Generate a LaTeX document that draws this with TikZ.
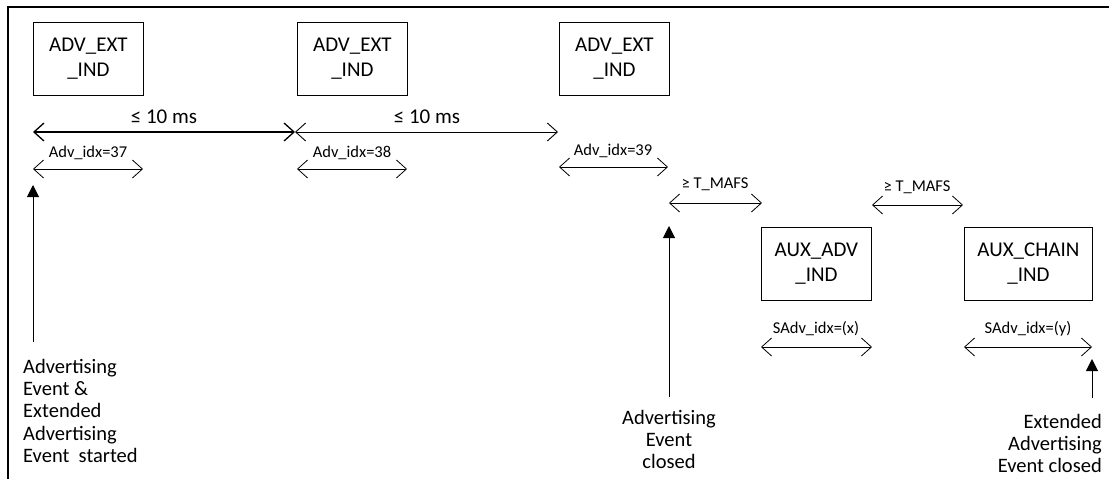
\documentclass[tikz,border=0pt]{standalone}
\usepackage{fontspec}
\setmainfont{Carlito}
\usetikzlibrary{arrows.meta}
\begin{document}
\begin{tikzpicture}[x=1pt,y=-1pt,
  box/.style={draw,line width=0.8pt,anchor=north west,minimum height=73pt,align=center,inner sep=0pt,font=\fontsize{21}{25}\selectfont},
  lbl/.style={anchor=base,inner sep=0pt,font=\fontsize{16.5}{19}\selectfont},
  biglbl/.style={anchor=base,inner sep=0pt,font=\fontsize{21}{25}\selectfont},
  txt/.style={inner sep=0pt,font=\fontsize{20.5}{22.2}\selectfont},
  span/.style={line width=0.8pt,{Straight Barb[length=10pt,width=18pt]}-{Straight Barb[length=10pt,width=18pt]}},
  up/.style={line width=1pt,-{Triangle[length=12pt,width=12pt]}}
]
\useasboundingbox (0,0) rectangle (1109,479);
% frame
\draw[line width=2pt] (8,479) -- (8,7) -- (1109,7);
% boxes
\node[box,minimum width=110pt] (b1) at (33,22) {ADV\_EXT\\\_IND};
\node[box,minimum width=110pt] (b2) at (297,22) {ADV\_EXT\\\_IND};
\node[box,minimum width=110pt] (b3) at (559,22) {ADV\_EXT\\\_IND};
\node[box,minimum width=110pt] (b4) at (761,227) {AUX\_ADV\\\_IND};
\node[box,minimum width=128pt] (b5) at (964,227) {AUX\_CHAIN\\\_IND};
% big interval arrows
\coordinate (p0) at (33,132);
\coordinate (p1) at (295,132);
\coordinate (p2) at (558,132);
\draw[span,line width=1.3pt] (p0) -- (p1);
\draw[span,line width=0.9pt] (p1) -- (p2);
\node[biglbl] (t1) at (164,123) {≤ 10 ms};
\node[biglbl] (t2) at (427,123) {≤ 10 ms};
% small arrows
\coordinate (a37l) at (33,169); \coordinate (a37r) at (143,169);
\coordinate (a38l) at (297,169); \coordinate (a38r) at (407,169);
\coordinate (a39l) at (559,167); \coordinate (a39r) at (668,167);
\draw[span] (a37l) -- (a37r);
\draw[span] (a38l) -- (a38r);
\draw[span] (a39l) -- (a39r);
\node[lbl] (l37) at (88,157) {Adv\_idx=37};
\node[lbl] (l38) at (352,157) {Adv\_idx=38};
\node[lbl] (l39) at (613,155) {Adv\_idx=39};
% T_MAFS
\coordinate (m1l) at (669,203); \coordinate (m1r) at (762,203);
\coordinate (m2l) at (872,205); \coordinate (m2r) at (963,205);
\draw[span] (m1l) -- (m1r);
\draw[span] (m2l) -- (m2r);
\node[lbl] (lm1) at (715,188) {≥ T\_MAFS};
\node[lbl] (lm2) at (917,191) {≥ T\_MAFS};
% SAdv
\coordinate (sxl) at (761,347); \coordinate (sxr) at (872,347);
\coordinate (syl) at (964,347); \coordinate (syr) at (1092,347);
\draw[span] (sxl) -- (sxr);
\draw[span] (syl) -- (syr);
\node[lbl] (lsx) at (816,333) {SAdv\_idx=(x)};
\node[lbl] (lsy) at (1028,333) {SAdv\_idx=(y)};
% upward event arrows
\coordinate (u1b) at (33,342); \coordinate (u1t) at (33,185);
\coordinate (u2b) at (669,397); \coordinate (u2t) at (669,226);
\coordinate (u3b) at (1092,398); \coordinate (u3t) at (1092,359);
\draw[up] (u1b) -- (u1t);
\draw[up] (u2b) -- (u2t);
\draw[up] (u3b) -- (u3t);
% event texts
\node[txt,anchor=north west,align=left] (e1) at (23,359) {Advertising\\Event \&\\Extended\\Advertising\\Event~ started};
\node[txt,anchor=north,align=center] (e2) at (669,410) {Advertising\\Event\\closed};
\node[txt,anchor=north east,align=right] (e3) at (1102,414) {Extended\\Advertising\\Event closed};
\end{tikzpicture}
\end{document}
